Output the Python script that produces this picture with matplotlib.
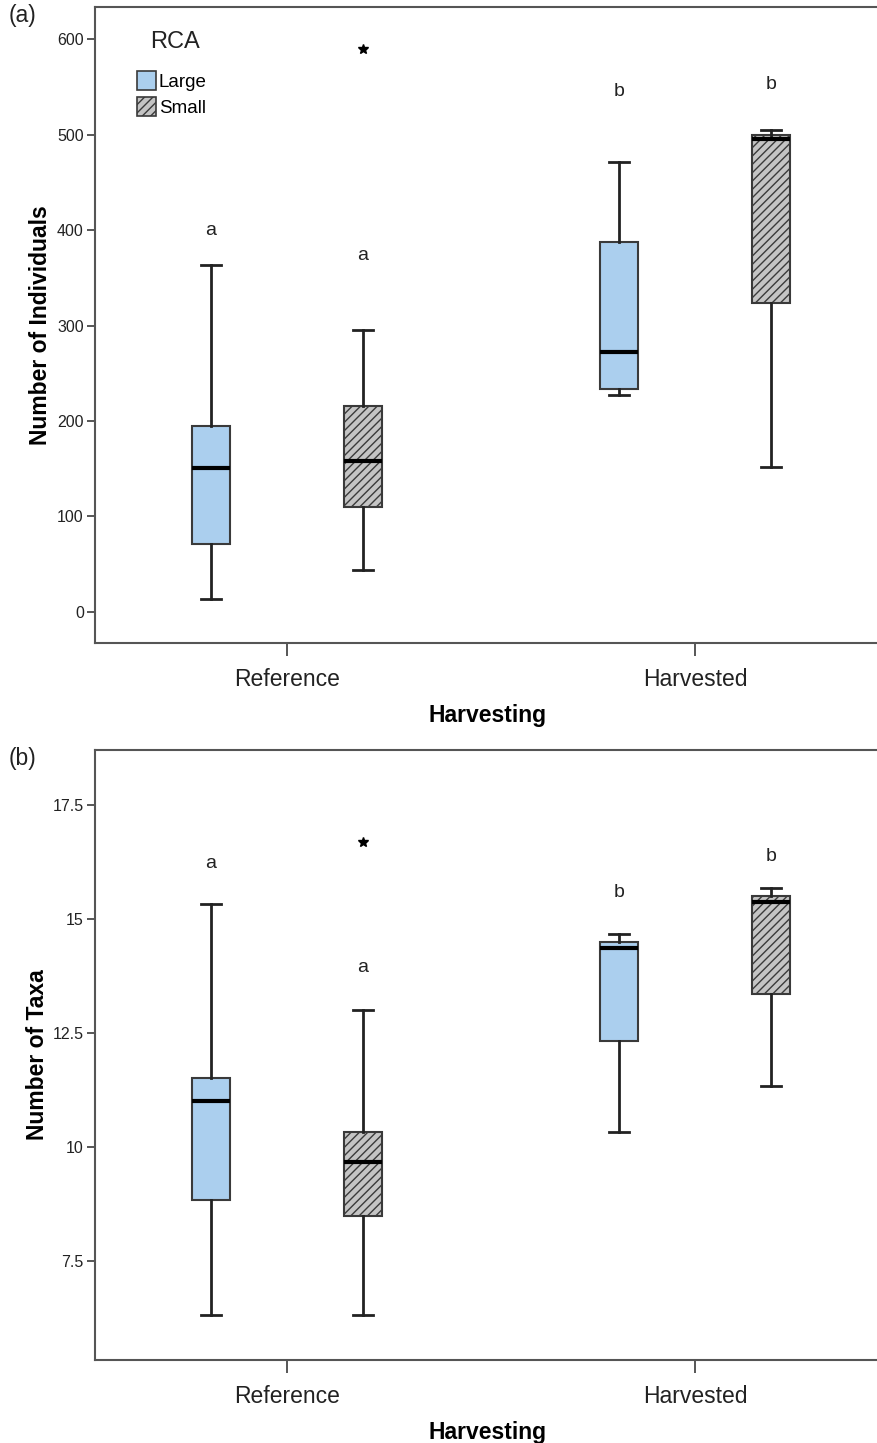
import numpy as np
import matplotlib
matplotlib.use('Agg')
import matplotlib.pyplot as plt
from matplotlib.patches import Patch

plt.rcParams['font.family'] = ['Liberation Sans', 'DejaVu Sans']
plt.rcParams['hatch.linewidth'] = 1.0

groups = ['Reference', 'Harvested']
rca = ['Large', 'Small']

# five-number summaries per box: Large-Ref, Small-Ref, Large-Harv, Small-Harv
indiv_whislo = [14, 44, 227, 152]
indiv_q1 = [71, 110, 233, 324]
indiv_med = [151, 158, 272, 495]
indiv_q3 = [195, 216, 387, 499]
indiv_whishi = [363, 295, 471, 505]
indiv_fliers = [[], [590], [], []]
indiv_letters = ['a', 'a', 'b', 'b']
indiv_letter_y = [399, 373, 545, 552]

taxa_whislo = [6.32, 6.32, 10.33, 11.34]
taxa_q1 = [8.84, 8.49, 12.33, 13.36]
taxa_med = [11.01, 9.67, 14.36, 15.37]
taxa_q3 = [11.51, 10.33, 14.50, 15.50]
taxa_whishi = [15.33, 13.0, 14.67, 15.68]
taxa_fliers = [[], [16.69], [], []]
taxa_letters = ['a', 'a', 'b', 'b']
taxa_letter_y = [16.23, 13.95, 15.59, 16.38]

blue = '#abcfee'
grey = '#c4c4c4'
edge = '#3a3a3a'


def draw_panel(ax, whislo, q1, med, q3, whishi, fliers, letters, letter_y,
               ylim, yticks, yticklabels, ylabel, panel, ylabelpad):
    stats = []
    for i in range(4):
        stats.append(dict(whislo=whislo[i], q1=q1[i], med=med[i], q3=q3[i],
                          whishi=whishi[i], fliers=np.array(fliers[i])))
    offs = 0.186
    pos = []
    for g in range(len(groups)):
        pos += [g - offs, g + offs]
    bp = ax.bxp(stats, positions=pos, widths=0.093, capwidths=0.05,
                patch_artist=True, manage_ticks=False,
                boxprops=dict(edgecolor=edge, linewidth=1.5),
                whiskerprops=dict(color='#222222', linewidth=2),
                capprops=dict(color='#222222', linewidth=2),
                medianprops=dict(color='black', linewidth=3, solid_capstyle='butt'),
                flierprops=dict(marker='*', markerfacecolor='black',
                                markeredgecolor='black', markersize=7))
    for i, b in enumerate(bp['boxes']):
        if i % 2 == 0:
            b.set_facecolor(blue)
        else:
            b.set_facecolor(grey)
            b.set_hatch('////')
    for p, t, y in zip(pos, letters, letter_y):
        ax.text(p, y, t, ha='center', va='center', fontsize=14, color='#222222')

    ax.set_xlim(-0.47, 1.453)
    ax.set_ylim(*ylim)
    ax.set_xticks(range(len(groups)))
    ax.set_xticklabels(groups, fontsize=16.5, color='#222222')
    ax.set_yticks(yticks)
    ax.set_yticklabels(yticklabels, fontsize=11.5, color='#222222')
    ax.tick_params(axis='x', length=9, width=1.2, color=edge, pad=9)
    ax.tick_params(axis='y', length=6, width=1.2, color=edge, pad=2)
    ax.set_xlabel('Harvesting', fontsize=16.5, fontweight='bold', labelpad=9)
    ax.set_ylabel(ylabel, fontsize=16.5, fontweight='bold', labelpad=ylabelpad)
    ax.spines['right'].set_visible(False)
    for s in ['left', 'top', 'bottom']:
        ax.spines[s].set_color('#555555')
        ax.spines[s].set_linewidth(1.5)
    ax.text(-0.11, 1.005, panel, transform=ax.transAxes, fontsize=16.5,
            va='top', ha='left', color='#222222')


fig = plt.figure(figsize=(8.77, 14.43), dpi=100)
ax1 = fig.add_axes([0.1083, 0.5544, 0.895, 0.4407])
ax2 = fig.add_axes([0.1083, 0.0575, 0.895, 0.4227])

draw_panel(ax1, indiv_whislo, indiv_q1, indiv_med, indiv_q3, indiv_whishi,
           indiv_fliers, indiv_letters, indiv_letter_y,
           (-32.5, 633.5), [0, 100, 200, 300, 400, 500, 600],
           ['0', '100', '200', '300', '400', '500', '600'],
           'Number of Individuals', '(a)', 4)
draw_panel(ax2, taxa_whislo, taxa_q1, taxa_med, taxa_q3, taxa_whishi,
           taxa_fliers, taxa_letters, taxa_letter_y,
           (5.33, 18.71), [7.5, 10, 12.5, 15, 17.5],
           ['7.5', '10', '12.5', '15', '17.5'],
           'Number of Taxa', '(b)', 3)

handles = [Patch(facecolor=blue, edgecolor=edge, linewidth=1.2, label=rca[0]),
           Patch(facecolor=grey, edgecolor=edge, linewidth=1.2, hatch='////', label=rca[1])]
ax1.text(0.102, 0.945, 'RCA', transform=ax1.transAxes, ha='center', va='center',
         fontsize=17, color='#222222')
ax1.legend(handles=handles, loc='upper left', bbox_to_anchor=(0.054, 0.9),
           frameon=False, fontsize=13.5, handlelength=1.0, handleheight=1.2,
           handletextpad=0.15, labelspacing=0.35, borderaxespad=0, borderpad=0)

fig.savefig('out.png', dpi=100)
